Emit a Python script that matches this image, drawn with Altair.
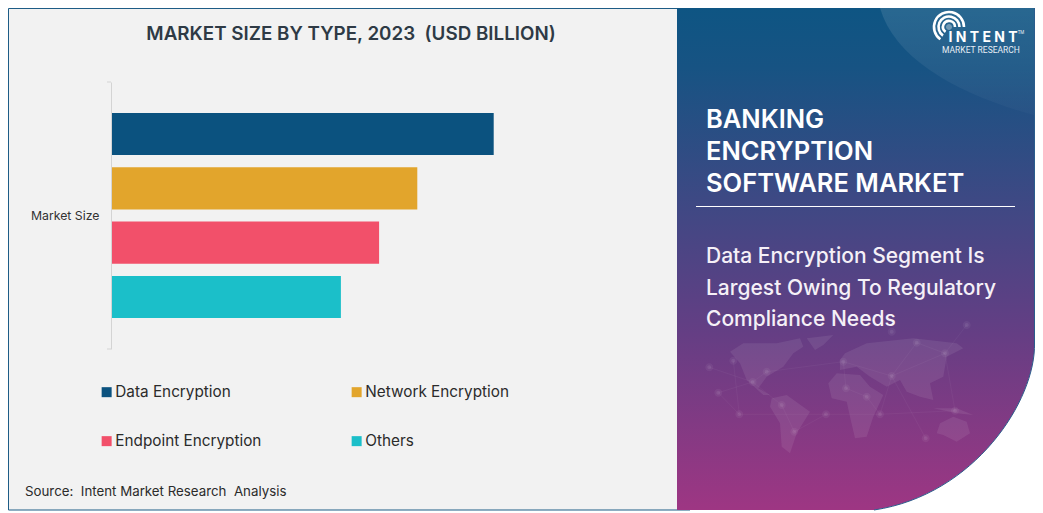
import math
import altair as alt
import pandas as pd

# ---- data ----
TYPES = ["Data Encryption", "Network Encryption", "Endpoint Encryption", "Others"]
VALUES = [5.0, 4.0, 3.5, 3.0]
COLORS = ["#0b527f", "#e2a52c", "#f2506a", "#1bbfc9"]
LEGEND_ORDER = ["Data Encryption", "Endpoint Encryption", "Network Encryption", "Others"]
CATEGORY = "Market Size"
TITLE = "MARKET SIZE BY TYPE, 2023\u00a0 (USD BILLION)"
SOURCE = "Source:\u00a0 Intent Market Research\u00a0 Analysis"
HEAD = ["BANKING", "ENCRYPTION", "SOFTWARE MARKET"]
SUB = ["Data Encryption Segment Is", "Largest Owing To Regulatory", "Compliance Needs"]

FONT = "Inter"
OX, OY = 8, 8  # page margin: reference pixel -> chart pixel
CANVAS_W, CANVAS_H = 1027, 503


def X(v):
    return v - OX


def Y(v):
    return v - OY


df = pd.DataFrame({"segment": [CATEGORY] * 4, "type": TYPES, "value": VALUES})
one = alt.Data(values=[{"a": 1}])


def shape(path, **kw):
    return alt.Chart(one).mark_point(shape=path, size=4, opacity=1, **kw).encode(
        x=alt.value(0), y=alt.value(0)
    )


def text(s, x, y, size, color, weight=400, align="left", font=FONT, opacity=1):
    return alt.Chart(alt.Data(values=[{"t": s}])).mark_text(
        font=font, fontSize=size, fontWeight=weight, color=color, align=align,
        baseline="middle", opacity=opacity,
    ).encode(x=alt.value(X(x)), y=alt.value(Y(y)), text="t:N")


def rule(x1, x2, y1, y2, color, width=1):
    return alt.Chart(one).mark_rule(color=color, strokeWidth=width).encode(
        x=alt.value(X(x1)), x2=alt.value(X(x2)), y=alt.value(Y(y1)), y2=alt.value(Y(y2))
    )


def poly(points, dx=700, dy=320, k=3):
    return "M" + " L".join(f"{X(dx + a / k):.1f},{Y(dy + b / k):.1f}" for a, b in points) + " Z"


def dots(points, r, dx=700, dy=320, k=3):
    out = []
    for a, b in points:
        cx, cy = X(dx + a / k), Y(dy + b / k)
        out.append(f"M{cx - r:.1f},{cy:.1f} A{r},{r} 0 1 1 {cx + r:.1f},{cy:.1f} A{r},{r} 0 1 1 {cx - r:.1f},{cy:.1f} Z")
    return " ".join(out)


def lines(pairs, dx=700, dy=320, k=3):
    return " ".join(
        f"M{X(dx + p[0] / k):.1f},{Y(dy + p[1] / k):.1f} L{X(dx + q[0] / k):.1f},{Y(dy + q[1] / k):.1f}"
        for p, q in pairs
    )


def arc(cx, cy, r, a0=125, a1=0):
    x0 = cx + r * math.cos(math.radians(a0))
    y0 = cy + r * math.sin(math.radians(a0))
    x1 = cx + r * math.cos(math.radians(a1))
    y1 = cy + r * math.sin(math.radians(a1))
    return f"M{X(x0):.1f},{Y(y0):.1f} A{r},{r} 0 1 1 {X(x1):.1f},{Y(y1):.1f}"


# ---- backgrounds ----
left_panel = alt.Chart(one).mark_rect(fill="#f2f2f2", stroke="#1d5c86", strokeWidth=1).encode(
    x=alt.value(0.5), x2=alt.value(X(690)), y=alt.value(0.5), y2=alt.value(Y(510))
)

CURVE = (
    f"L{X(1034.5)},{Y(343)} C{X(1036)},{Y(400)} {X(975)},{Y(495)} {X(874)},{Y(510)} "
)
panel_path = f"M{X(677)},{Y(8)} L{X(1034.5)},{Y(8)} {CURVE} L{X(677)},{Y(510)} Z"
edge_path = f"M{X(1034.5)},{Y(8)} {CURVE}"
gradient = alt.LinearGradient(
    gradient="linear", x1=0, y1=0, x2=0, y2=1,
    stops=[
        alt.GradientStop(offset=0, color="#0e5583"),
        alt.GradientStop(offset=0.12, color="#175383"),
        alt.GradientStop(offset=0.4, color="#404884"),
        alt.GradientStop(offset=0.65, color="#653e84"),
        alt.GradientStop(offset=1, color="#9e3683"),
    ],
)
right_panel = shape(panel_path, filled=True, fill=gradient, strokeWidth=0)
panel_edge = shape(edge_path, filled=False, stroke="#2a5c8c", strokeWidth=1)

sheen_fill = alt.LinearGradient(
    gradient="linear", x1=0, y1=0, x2=0, y2=1,
    stops=[
        alt.GradientStop(offset=0, color="rgba(255,255,255,0.11)"),
        alt.GradientStop(offset=1, color="rgba(255,255,255,0.02)"),
    ],
)
sheen = shape(
    f"M{X(880)},{Y(8)} C{X(895)},{Y(60)} {X(960)},{Y(95)} {X(1034)},{Y(115)} L{X(1034)},{Y(8)} Z",
    filled=True, fill=sheen_fill, strokeWidth=0,
)

# ---- faint world map ----
LAND = [
    [(90, 95), (130, 70), (230, 70), (300, 55), (310, 80), (280, 100), (250, 140), (200, 170), (175, 205),
     (210, 225), (190, 225), (140, 180), (120, 130)],
    [(320, 55), (400, 45), (370, 75), (345, 90)],
    [(215, 235), (260, 225), (330, 275), (290, 340), (270, 400), (245, 380), (240, 310), (210, 260)],
    [(385, 190), (410, 160), (480, 165), (510, 200), (550, 225), (520, 290), (500, 350), (465, 355), (450, 290),
     (440, 245), (395, 235)],
    [(435, 100), (500, 70), (640, 55), (770, 70), (790, 85), (740, 110), (730, 170), (690, 190), (700, 240),
     (660, 230), (620, 215), (600, 180), (560, 200), (510, 170), (470, 140), (420, 150), (420, 120)],
    [(710, 340), (720, 310), (760, 290), (800, 305), (810, 340), (770, 365), (730, 345)],
    [(700, 265), (770, 265), (820, 285), (770, 280)],
]
NODES = [(100, 122), (28, 142), (55, 218), (118, 283), (158, 186), (200, 155), (378, 283), (283, 335), (245, 255),
         (430, 125), (575, 168), (650, 68), (735, 100), (765, 272), (540, 283), (677, 355), (438, 205), (500, 230),
         (575, 35), (800, 15)]
LINKS = [(NODES[i], NODES[j]) for i, j in [(0, 3), (1, 4), (2, 3), (2, 4), (3, 6), (6, 7), (7, 8), (8, 4), (4, 5),
                                           (5, 9), (9, 10), (10, 11), (11, 12), (12, 10), (10, 15), (14, 10),
                                           (14, 17), (17, 16), (16, 9), (13, 12), (13, 14), (6, 14), (12, 19)]]

world = [shape(" ".join(poly(p) for p in LAND), filled=True, fill="#ffffff", fillOpacity=0.08, strokeWidth=0)]
world.append(shape(lines(LINKS), filled=False, stroke="#ffffff", strokeOpacity=0.06, strokeWidth=0.7))
world.append(shape(dots(NODES, 4), filled=True, fill="#ffffff", fillOpacity=0.05, strokeWidth=0))
world.append(shape(dots(NODES, 2), filled=True, fill="#ffffff", fillOpacity=0.08, strokeWidth=0))

# ---- bars, axis, legend ----
bars = alt.Chart(df).mark_bar().encode(
    x=alt.X("value:Q", stack=None, axis=None, scale=alt.Scale(domain=[0, 5], range=[X(111.7), X(493.7)])),
    y=alt.Y(
        "segment:N", title=None,
        scale=alt.Scale(range=[Y(82), Y(349)], paddingInner=0, paddingOuter=0),
        axis=alt.Axis(
            offset=-X(111), ticks=False, domainColor="#d4d4d4", domainWidth=1, grid=False, zindex=1,
            labelFont=FONT, labelFontSize=12.3, labelColor="#333333", labelPadding=12,
        ),
    ),
    yOffset=alt.YOffset("type:N", sort=TYPES, scale=alt.Scale(paddingInner=0.225, paddingOuter=0.57)),
    color=alt.Color(
        "type:N", sort=TYPES, scale=alt.Scale(domain=TYPES, range=COLORS),
        legend=alt.Legend(
            orient="none", legendX=X(99), legendY=Y(384.5), columns=2, title=None, values=LEGEND_ORDER,
            symbolType="square", symbolSize=100, symbolStrokeWidth=0,
            labelFont=FONT, labelFontSize=15.3, labelColor="#2b2b2b", labelOffset=1, labelLimit=250,
            columnPadding=87, rowPadding=33, gridAlign="all",
        ),
    ),
)

layers = [left_panel, right_panel, sheen, panel_edge] + world + [
    bars,
    rule(107, 111, 82, 82, "#d4d4d4"),
    rule(107, 111, 349, 349, "#d4d4d4"),
    text(TITLE, 351, 34, 18.8, "#2e3a45", 600, "center"),
    text(SOURCE, 25, 491.5, 13.3, "#2b2b2b"),
    rule(696, 1015, 206.5, 206.5, "#ffffff"),
]
for s, y in zip(HEAD, [120, 152, 184]):
    layers.append(text(s, 706, y, 25.5, "#ffffff", 600))
for s, y in zip(SUB, [257, 289, 320]):
    layers.append(text(s, 706, y, 21, "#f5f0f7", 500))

# ---- logo ----
logo_arcs = " ".join(arc(949, 27, r) for r in (15, 10.5, 6))
layers += [
    shape(logo_arcs, filled=False, stroke="#ffffff", strokeWidth=2.6),
    shape(dots([(949, 27)], 3, dx=0, dy=0, k=1), filled=True, fill="#ffffff", fillOpacity=0.35, strokeWidth=0),
    text("I N T E N T", 983, 38, 14, "#ffffff", 700, "center"),
    text("MARKET RESEARCH", 981, 50, 8.5, "#e6eef5", 400, "center", font="Roboto"),
    text("TM", 1021, 33, 4.5, "#e6eef5", 400, "center", font="Roboto"),
]

chart = alt.layer(*layers).properties(
    width=CANVAS_W, height=CANVAS_H, padding=0, autosize=alt.AutoSizeParams(type="none"), background="#ffffff"
).configure_view(stroke=None)

chart.save("out.html", embed_options={"renderer": "svg", "actions": False})
